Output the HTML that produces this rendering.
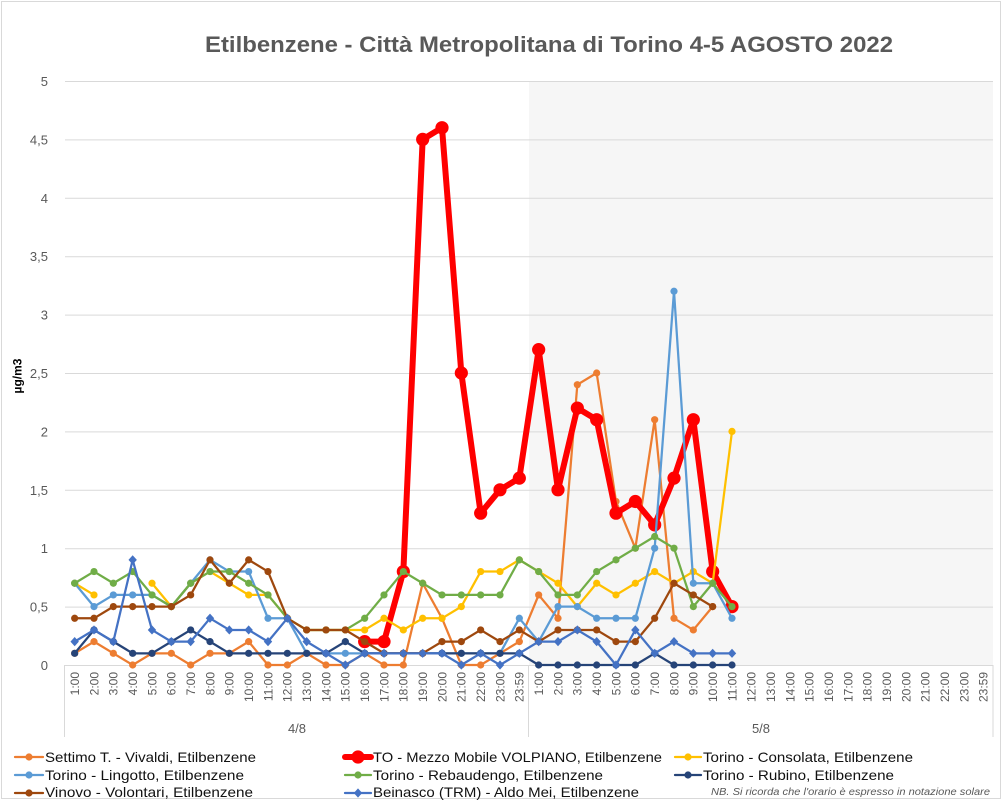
<!DOCTYPE html>
<html><head><meta charset="utf-8"><style>
html,body{margin:0;padding:0;background:#fff;}
svg{display:block;font-family:"Liberation Sans",Arial,sans-serif;}
</style></head><body>
<svg width="1004" height="803" viewBox="0 0 1004 803" xmlns="http://www.w3.org/2000/svg">
<defs>
<marker id="mO" markerUnits="userSpaceOnUse" markerWidth="1" markerHeight="1" overflow="visible"><circle transform="scale(0.0517241 -0.00856164)" r="3.6" fill="#ED7D31"/></marker>
<marker id="mR" markerUnits="userSpaceOnUse" markerWidth="1" markerHeight="1" overflow="visible"><circle transform="scale(0.0517241 -0.00856164)" r="6.6" fill="#FF0000"/></marker>
<marker id="mY" markerUnits="userSpaceOnUse" markerWidth="1" markerHeight="1" overflow="visible"><circle transform="scale(0.0517241 -0.00856164)" r="3.6" fill="#FFC000"/></marker>
<marker id="mL" markerUnits="userSpaceOnUse" markerWidth="1" markerHeight="1" overflow="visible"><circle transform="scale(0.0517241 -0.00856164)" r="3.6" fill="#5B9BD5"/></marker>
<marker id="mG" markerUnits="userSpaceOnUse" markerWidth="1" markerHeight="1" overflow="visible"><circle transform="scale(0.0517241 -0.00856164)" r="3.6" fill="#70AD47"/></marker>
<marker id="mN" markerUnits="userSpaceOnUse" markerWidth="1" markerHeight="1" overflow="visible"><circle transform="scale(0.0517241 -0.00856164)" r="3.6" fill="#264478"/></marker>
<marker id="mV" markerUnits="userSpaceOnUse" markerWidth="1" markerHeight="1" overflow="visible"><circle transform="scale(0.0517241 -0.00856164)" r="3.6" fill="#9E480E"/></marker>
<marker id="mB" markerUnits="userSpaceOnUse" markerWidth="1" markerHeight="1" overflow="visible"><polygon transform="scale(0.0517241 -0.00856164)" points="0,-4.6 4.2,0 0,4.6 -4.2,0" fill="#4472C4"/></marker>
</defs>

<!-- outer border -->
<rect x="1.5" y="1.5" width="999" height="797" fill="#fff" stroke="#D9D9D9" stroke-width="1"/>

<!-- title -->
<text x="205" y="52" font-size="22" font-weight="bold" fill="#595959" textLength="688" lengthAdjust="spacingAndGlyphs">Etilbenzene - Città Metropolitana di Torino 4-5 AGOSTO 2022</text>

<!-- shaded 5/8 area -->
<rect x="529" y="81" width="464" height="584" fill="#F6F6F6"/>

<!-- gridlines -->
<g stroke="#D9D9D9" stroke-width="1">
<line x1="65" y1="81.5" x2="993" y2="81.5"/>
<line x1="65" y1="139.9" x2="993" y2="139.9"/>
<line x1="65" y1="198.3" x2="993" y2="198.3"/>
<line x1="65" y1="256.7" x2="993" y2="256.7"/>
<line x1="65" y1="315.1" x2="993" y2="315.1"/>
<line x1="65" y1="373.5" x2="993" y2="373.5"/>
<line x1="65" y1="431.9" x2="993" y2="431.9"/>
<line x1="65" y1="490.3" x2="993" y2="490.3"/>
<line x1="65" y1="548.7" x2="993" y2="548.7"/>
<line x1="65" y1="607.1" x2="993" y2="607.1"/>
<line x1="65" y1="665.5" x2="993" y2="665.5"/>
<line x1="64.5" y1="665" x2="64.5" y2="737"/>
<line x1="528.5" y1="665" x2="528.5" y2="737"/>
<line x1="993" y1="665" x2="993" y2="737"/>
</g>

<!-- y tick labels -->
<g font-size="13" fill="#595959" text-anchor="end">
<text x="48" y="86">5</text>
<text x="48" y="144.4">4,5</text>
<text x="48" y="202.8">4</text>
<text x="48" y="261.2">3,5</text>
<text x="48" y="319.6">3</text>
<text x="48" y="378">2,5</text>
<text x="48" y="436.4">2</text>
<text x="48" y="494.8">1,5</text>
<text x="48" y="553.2">1</text>
<text x="48" y="611.6">0,5</text>
<text x="48" y="670">0</text>
</g>

<!-- y axis title -->
<text transform="translate(21.5,376) rotate(-90)" text-anchor="middle" font-size="12" font-weight="bold" fill="#000">µg/m3</text>

<!-- x tick labels -->
<g font-size="12" fill="#595959" text-anchor="end">
<text transform="translate(78.97,672) rotate(-90)">1:00</text>
<text transform="translate(98.3,672) rotate(-90)">2:00</text>
<text transform="translate(117.63,672) rotate(-90)">3:00</text>
<text transform="translate(136.97,672) rotate(-90)">4:00</text>
<text transform="translate(156.3,672) rotate(-90)">5:00</text>
<text transform="translate(175.63,672) rotate(-90)">6:00</text>
<text transform="translate(194.97,672) rotate(-90)">7:00</text>
<text transform="translate(214.3,672) rotate(-90)">8:00</text>
<text transform="translate(233.63,672) rotate(-90)">9:00</text>
<text transform="translate(252.97,672) rotate(-90)">10:00</text>
<text transform="translate(272.3,672) rotate(-90)">11:00</text>
<text transform="translate(291.63,672) rotate(-90)">12:00</text>
<text transform="translate(310.97,672) rotate(-90)">13:00</text>
<text transform="translate(330.3,672) rotate(-90)">14:00</text>
<text transform="translate(349.63,672) rotate(-90)">15:00</text>
<text transform="translate(368.97,672) rotate(-90)">16:00</text>
<text transform="translate(388.3,672) rotate(-90)">17:00</text>
<text transform="translate(407.63,672) rotate(-90)">18:00</text>
<text transform="translate(426.97,672) rotate(-90)">19:00</text>
<text transform="translate(446.3,672) rotate(-90)">20:00</text>
<text transform="translate(465.63,672) rotate(-90)">21:00</text>
<text transform="translate(484.97,672) rotate(-90)">22:00</text>
<text transform="translate(504.3,672) rotate(-90)">23:00</text>
<text transform="translate(523.63,672) rotate(-90)">23:59</text>
<text transform="translate(542.97,672) rotate(-90)">1:00</text>
<text transform="translate(562.3,672) rotate(-90)">2:00</text>
<text transform="translate(581.63,672) rotate(-90)">3:00</text>
<text transform="translate(600.97,672) rotate(-90)">4:00</text>
<text transform="translate(620.3,672) rotate(-90)">5:00</text>
<text transform="translate(639.63,672) rotate(-90)">6:00</text>
<text transform="translate(658.97,672) rotate(-90)">7:00</text>
<text transform="translate(678.3,672) rotate(-90)">8:00</text>
<text transform="translate(697.63,672) rotate(-90)">9:00</text>
<text transform="translate(716.97,672) rotate(-90)">10:00</text>
<text transform="translate(736.3,672) rotate(-90)">11:00</text>
<text transform="translate(755.63,672) rotate(-90)">12:00</text>
<text transform="translate(774.97,672) rotate(-90)">13:00</text>
<text transform="translate(794.3,672) rotate(-90)">14:00</text>
<text transform="translate(813.63,672) rotate(-90)">15:00</text>
<text transform="translate(832.97,672) rotate(-90)">16:00</text>
<text transform="translate(852.3,672) rotate(-90)">17:00</text>
<text transform="translate(871.63,672) rotate(-90)">18:00</text>
<text transform="translate(890.97,672) rotate(-90)">19:00</text>
<text transform="translate(910.3,672) rotate(-90)">20:00</text>
<text transform="translate(929.63,672) rotate(-90)">21:00</text>
<text transform="translate(948.97,672) rotate(-90)">22:00</text>
<text transform="translate(968.3,672) rotate(-90)">23:00</text>
<text transform="translate(987.63,672) rotate(-90)">23:59</text>
</g>

<!-- group labels -->
<g font-size="13" fill="#595959" text-anchor="middle">
<text x="297" y="733">4/8</text>
<text x="761" y="733">5/8</text>
</g>

<!-- series -->
<g transform="translate(65 665) scale(19.33333 -116.8)" fill="none" stroke-linejoin="round" stroke-linecap="round">
<polyline vector-effect="non-scaling-stroke" stroke="#ED7D31" stroke-width="2.25" marker-start="url(#mO)" marker-mid="url(#mO)" marker-end="url(#mO)"
points="0.5,0.1 1.5,0.2 2.5,0.1 3.5,0 4.5,0.1 5.5,0.1 6.5,0 7.5,0.1 8.5,0.1 9.5,0.2 10.5,0 11.5,0 12.5,0.1 13.5,0 14.5,0 15.5,0.1 16.5,0 17.5,0 18.5,0.7 19.5,0.4 20.5,0 21.5,0 22.5,0.1 23.5,0.2 24.5,0.6 25.5,0.4 26.5,2.4 27.5,2.5 28.5,1.4 29.5,1.0 30.5,2.1 31.5,0.4 32.5,0.3 33.5,0.5"/>
<polyline vector-effect="non-scaling-stroke" stroke="#FF0000" stroke-width="6" marker-start="url(#mR)" marker-mid="url(#mR)" marker-end="url(#mR)"
points="15.5,0.2 16.5,0.2 17.5,0.8 18.5,4.5 19.5,4.6 20.5,2.5 21.5,1.3 22.5,1.5 23.5,1.6 24.5,2.7 25.5,1.5 26.5,2.2 27.5,2.1 28.5,1.3 29.5,1.4 30.5,1.2 31.5,1.6 32.5,2.1 33.5,0.8 34.5,0.5"/>
<polyline vector-effect="non-scaling-stroke" stroke="#FFC000" stroke-width="2.25" marker-start="url(#mY)" marker-mid="url(#mY)" marker-end="url(#mY)"
points="0.5,0.7 1.5,0.6"/>
<polyline vector-effect="non-scaling-stroke" stroke="#FFC000" stroke-width="2.25" marker-start="url(#mY)" marker-mid="url(#mY)" marker-end="url(#mY)"
points="4.5,0.7 5.5,0.5 6.5,0.7 7.5,0.8 8.5,0.7 9.5,0.6 10.5,0.6 11.5,0.4 12.5,0.3 13.5,0.3 14.5,0.3 15.5,0.3 16.5,0.4 17.5,0.3 18.5,0.4 19.5,0.4 20.5,0.5 21.5,0.8 22.5,0.8 23.5,0.9 24.5,0.8 25.5,0.7 26.5,0.5 27.5,0.7 28.5,0.6 29.5,0.7 30.5,0.8 31.5,0.7 32.5,0.8 33.5,0.7 34.5,2.0"/>
<polyline vector-effect="non-scaling-stroke" stroke="#5B9BD5" stroke-width="2.25" marker-start="url(#mL)" marker-mid="url(#mL)" marker-end="url(#mL)"
points="0.5,0.7 1.5,0.5 2.5,0.6 3.5,0.6 4.5,0.6 5.5,0.5 6.5,0.7 7.5,0.9 8.5,0.8 9.5,0.8 10.5,0.4 11.5,0.4 12.5,0.1 13.5,0.1 14.5,0.1 15.5,0.1 16.5,0.1 17.5,0.1 18.5,0.1 19.5,0.1 20.5,0.1 21.5,0.1 22.5,0.1 23.5,0.4 24.5,0.2 25.5,0.5 26.5,0.5 27.5,0.4 28.5,0.4 29.5,0.4 30.5,1.0 31.5,3.2 32.5,0.7 33.5,0.7 34.5,0.4"/>
<polyline vector-effect="non-scaling-stroke" stroke="#70AD47" stroke-width="2.25" marker-start="url(#mG)" marker-mid="url(#mG)" marker-end="url(#mG)"
points="0.5,0.7 1.5,0.8 2.5,0.7 3.5,0.8 4.5,0.6 5.5,0.5 6.5,0.7 7.5,0.8 8.5,0.8 9.5,0.7 10.5,0.6 11.5,0.4 12.5,0.3 13.5,0.3 14.5,0.3 15.5,0.4 16.5,0.6 17.5,0.8 18.5,0.7 19.5,0.6 20.5,0.6 21.5,0.6 22.5,0.6 23.5,0.9 24.5,0.8 25.5,0.6 26.5,0.6 27.5,0.8 28.5,0.9 29.5,1.0 30.5,1.1 31.5,1.0 32.5,0.5 33.5,0.7 34.5,0.5"/>
<polyline vector-effect="non-scaling-stroke" stroke="#264478" stroke-width="2.25" marker-start="url(#mN)" marker-mid="url(#mN)" marker-end="url(#mN)"
points="0.5,0.1 1.5,0.3 2.5,0.2 3.5,0.1 4.5,0.1 5.5,0.2 6.5,0.3 7.5,0.2 8.5,0.1 9.5,0.1 10.5,0.1 11.5,0.1 12.5,0.1 13.5,0.1 14.5,0.2 15.5,0.1 16.5,0.1 17.5,0.1 18.5,0.1 19.5,0.1 20.5,0.1 21.5,0.1 22.5,0.1 23.5,0.1 24.5,0 25.5,0 26.5,0 27.5,0 28.5,0 29.5,0 30.5,0.1 31.5,0 32.5,0 33.5,0 34.5,0"/>
<polyline vector-effect="non-scaling-stroke" stroke="#9E480E" stroke-width="2.25" marker-start="url(#mV)" marker-mid="url(#mV)" marker-end="url(#mV)"
points="0.5,0.4 1.5,0.4 2.5,0.5 3.5,0.5 4.5,0.5 5.5,0.5 6.5,0.6 7.5,0.9 8.5,0.7 9.5,0.9 10.5,0.8 11.5,0.4 12.5,0.3 13.5,0.3 14.5,0.3 15.5,0.2 16.5,0.1 17.5,0.1 18.5,0.1 19.5,0.2 20.5,0.2 21.5,0.3 22.5,0.2 23.5,0.3 24.5,0.2 25.5,0.3 26.5,0.3 27.5,0.3 28.5,0.2 29.5,0.2 30.5,0.4 31.5,0.7 32.5,0.6 33.5,0.5"/>
<polyline vector-effect="non-scaling-stroke" stroke="#4472C4" stroke-width="2.25" marker-start="url(#mB)" marker-mid="url(#mB)" marker-end="url(#mB)"
points="0.5,0.2 1.5,0.3 2.5,0.2 3.5,0.9 4.5,0.3 5.5,0.2 6.5,0.2 7.5,0.4 8.5,0.3 9.5,0.3 10.5,0.2 11.5,0.4 12.5,0.2 13.5,0.1 14.5,0 15.5,0.1 16.5,0.1 17.5,0.1 18.5,0.1 19.5,0.1 20.5,0 21.5,0.1 22.5,0 23.5,0.1 24.5,0.2 25.5,0.2 26.5,0.3 27.5,0.2 28.5,0 29.5,0.3 30.5,0.1 31.5,0.2 32.5,0.1 33.5,0.1 34.5,0.1"/>
</g>

<!-- legend -->
<g stroke-linecap="round">
<line x1="15" y1="757" x2="43" y2="757" stroke="#ED7D31" stroke-width="2.25"/><circle cx="29" cy="757" r="3.6" fill="#ED7D31"/>
<line x1="345" y1="757" x2="371" y2="757" stroke="#FF0000" stroke-width="6"/><circle cx="358" cy="757" r="6.6" fill="#FF0000"/>
<line x1="675" y1="757" x2="701" y2="757" stroke="#FFC000" stroke-width="2.25"/><circle cx="688" cy="757" r="3.6" fill="#FFC000"/>
<line x1="15" y1="775" x2="43" y2="775" stroke="#5B9BD5" stroke-width="2.25"/><circle cx="29" cy="775" r="3.6" fill="#5B9BD5"/>
<line x1="345" y1="775" x2="371" y2="775" stroke="#70AD47" stroke-width="2.25"/><circle cx="358" cy="775" r="3.6" fill="#70AD47"/>
<line x1="675" y1="775" x2="701" y2="775" stroke="#264478" stroke-width="2.25"/><circle cx="688" cy="775" r="3.6" fill="#264478"/>
<line x1="15" y1="793" x2="43" y2="793" stroke="#9E480E" stroke-width="2.25"/><circle cx="29" cy="793" r="3.6" fill="#9E480E"/>
<line x1="345" y1="793" x2="371" y2="793" stroke="#4472C4" stroke-width="2.25"/><polygon points="358,788.4 362.2,793 358,797.6 353.8,793" fill="#4472C4"/>
</g>
<g font-size="14" fill="#111">
<text x="45" y="762" textLength="211" lengthAdjust="spacingAndGlyphs">Settimo T. - Vivaldi, Etilbenzene</text>
<text x="373" y="762" textLength="289" lengthAdjust="spacingAndGlyphs">TO - Mezzo Mobile VOLPIANO, Etilbenzene</text>
<text x="703" y="762" textLength="210" lengthAdjust="spacingAndGlyphs">Torino - Consolata, Etilbenzene</text>
<text x="45" y="780" textLength="199" lengthAdjust="spacingAndGlyphs">Torino - Lingotto, Etilbenzene</text>
<text x="373" y="780" textLength="230" lengthAdjust="spacingAndGlyphs">Torino - Rebaudengo, Etilbenzene</text>
<text x="703" y="780" textLength="191" lengthAdjust="spacingAndGlyphs">Torino - Rubino, Etilbenzene</text>
<text x="45" y="797" textLength="208" lengthAdjust="spacingAndGlyphs">Vinovo - Volontari, Etilbenzene</text>
<text x="373" y="797" textLength="266" lengthAdjust="spacingAndGlyphs">Beinasco (TRM) - Aldo Mei, Etilbenzene</text>
</g>
<text x="711" y="795" font-size="10" font-style="italic" fill="#595959" textLength="279" lengthAdjust="spacingAndGlyphs">NB. Si ricorda che l'orario è espresso in notazione solare</text>
</svg>
</body></html>
